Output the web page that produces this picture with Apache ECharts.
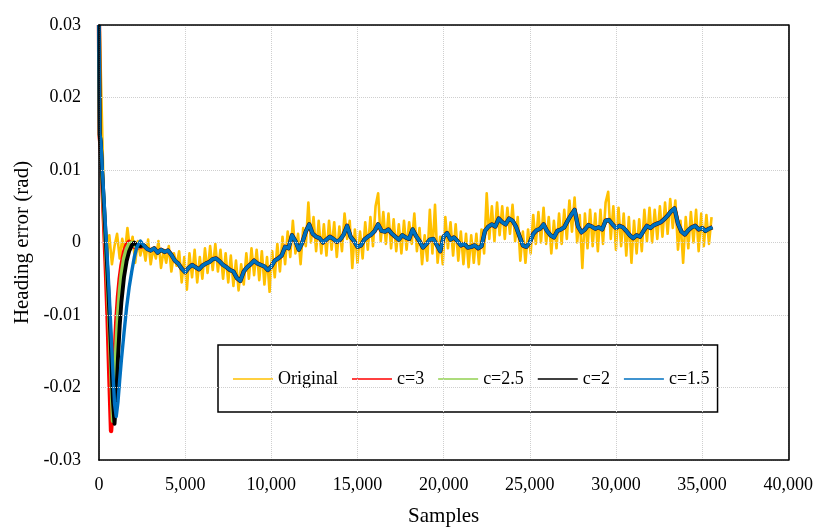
<!DOCTYPE html>
<html>
<head>
<meta charset="utf-8">
<script src="https://cdn.jsdelivr.net/npm/echarts@6/dist/echarts.min.js"></script>
<style>
html,body{margin:0;padding:0;background:#fff;}
#chart{width:816px;height:532px;}
</style>
</head>
<body>
<div id="chart"></div>
<script>
// ---------- DATA ----------
const seriesNames = ['Original', 'c=3', 'c=2.5', 'c=2', 'c=1.5'];
const xTicks = [0, 5000, 10000, 15000, 20000, 25000, 30000, 35000, 40000];
const yTicks = [-0.03, -0.02, -0.01, 0, 0.01, 0.02, 0.03];

// transient part (samples 0..2400) of the filtered signals
const transientSamples = [0, 40, 100, 200, 300, 400, 500, 600, 700, 800, 900, 1000, 1100, 1200, 1300, 1450, 1600, 1750, 1900, 2050, 2200, 2400];
const c3Transient  = [0.0300, 0.0146, 0.0131, 0.0076, 0.0022, -0.0038, -0.0105, -0.0185, -0.0260, -0.0225, -0.0160, -0.0110, -0.0075, -0.0050, -0.0032, -0.0013, -0.0003, 0.0001, -0.0003, -0.0006, -0.0007, -0.0006];
const c25Transient = [0.0300, 0.0148, 0.0136, 0.0084, 0.0038, -0.0008, -0.0058, -0.0112, -0.0175, -0.0246, -0.0205, -0.0145, -0.0100, -0.0068, -0.0045, -0.0022, -0.0009, -0.0002, 0.0000, -0.0004, -0.0006, -0.0005];
const c2Transient  = [0.0300, 0.0149, 0.0139, 0.0090, 0.0047, 0.0002, -0.0045, -0.0095, -0.0150, -0.0215, -0.0250, -0.0215, -0.0160, -0.0115, -0.0082, -0.0048, -0.0026, -0.0012, -0.0004, 0.0000, -0.0004, -0.0005];
const c15Transient = [0.0300, 0.0150, 0.0143, 0.0097, 0.0055, 0.0012, -0.0030, -0.0075, -0.0125, -0.0175, -0.0222, -0.0240, -0.0220, -0.0190, -0.0162, -0.0125, -0.0090, -0.0062, -0.0040, -0.0020, -0.0006, 0.0002];

// steady part (samples 2600..35600, every 200) – the filtered curves coincide here
const steadyStart = 2600, steadyStep = 200;
const steadyValues = [
-0.0004,-0.0009,-0.0011,-0.0008,-0.0014,-0.0010,-0.0013,-0.0011,-0.0017,-0.0025,
-0.0029,-0.0036,-0.0041,-0.0035,-0.0031,-0.0034,-0.0037,-0.0032,-0.0029,-0.0027,
-0.0023,-0.0022,-0.0026,-0.0031,-0.0034,-0.0038,-0.0040,-0.0049,-0.0053,-0.0040,
-0.0034,-0.0030,-0.0025,-0.0029,-0.0031,-0.0033,-0.0038,-0.0033,-0.0025,-0.0022,
-0.0018,-0.0006,-0.0008,0.0010,0.0002,-0.0010,0.0000,0.0015,0.0025,0.0012,
0.0008,0.0006,0.0000,0.0004,0.0008,0.0005,0.0001,0.0004,0.0011,0.0023,
0.0008,0.0002,-0.0006,-0.0004,0.0004,0.0008,0.0011,0.0016,0.0025,0.0016,
0.0015,0.0018,0.0012,0.0008,0.0004,0.0010,0.0007,0.0005,0.0018,0.0009,
0.0002,-0.0007,-0.0002,0.0004,0.0005,-0.0003,-0.0012,0.0008,0.0013,0.0004,
0.0007,0.0002,-0.0004,-0.0002,-0.0007,-0.0006,-0.0004,-0.0008,-0.0005,0.0016,
0.0022,0.0025,0.0022,0.0033,0.0028,0.0025,0.0033,0.0030,0.0022,0.0009,
-0.0004,-0.0006,0.0000,0.0012,0.0017,0.0019,0.0025,0.0016,0.0010,0.0007,
0.0016,0.0018,0.0021,0.0030,0.0038,0.0045,0.0022,0.0014,0.0018,0.0024,
0.0022,0.0019,0.0021,0.0018,0.0030,0.0031,0.0025,0.0020,0.0023,0.0021,
0.0016,0.0010,0.0006,0.0010,0.0008,0.0016,0.0023,0.0020,0.0024,0.0026,
0.0028,0.0032,0.0037,0.0043,0.0047,0.0026,0.0015,0.0011,0.0017,0.0021,
0.0023,0.0018,0.0020,0.0016,0.0019,0.0021
];

// original (unfiltered) signal
const originalHeadSamples = [0, 50, 120, 180, 250];
const originalHeadValues = [0.0300, 0.0290, 0.0220, 0.0160, 0.0090];
const originalStart = 300, originalStep = 150;
const originalValues = [
0.0020,-0.0020,0.0010,-0.0030,-0.0005,0.0012,-0.0022,0.0005,-0.0015,0.0020,-0.0010,0.0008,-0.0028,0.0002,-0.0018,
-0.0002,-0.0025,0.0004,-0.0030,-0.0008,-0.0022,0.0002,-0.0035,-0.0010,-0.0028,-0.0005,-0.0040,-0.0015,-0.0032,
-0.0012,-0.0055,-0.0020,-0.0065,-0.0015,-0.0048,-0.0010,-0.0055,-0.0020,-0.0050,-0.0008,-0.0042,-0.0005,-0.0038,-0.0002,-0.0040,-0.0010,-0.0050,-0.0015,-0.0055,-0.0018,-0.0060,-0.0025,-0.0066,-0.0030,-0.0058,-0.0015,-0.0050,-0.0008,-0.0045,-0.0010,-0.0052,-0.0012,-0.0058,-0.0020,-0.0068,-0.0012,
-0.0048,-0.0002,-0.0040,0.0008,-0.0030,0.0015,-0.0020,0.0030,-0.0015,0.0012,-0.0030,0.0020,-0.0005,
0.0055,0.0000,0.0035,-0.0012,0.0030,-0.0015,0.0025,-0.0018,0.0030,-0.0010,
0.0028,-0.0020,0.0022,-0.0012,0.0040,0.0005,0.0030,-0.0035,0.0018,-0.0028,
0.0015,-0.0022,0.0028,-0.0010,0.0035,-0.0005,0.0050,0.0068,0.0002,0.0042,
-0.0002,0.0040,-0.0008,0.0032,-0.0012,0.0025,-0.0015,0.0030,-0.0010,0.0028,
-0.0002,0.0040,-0.0012,0.0020,-0.0030,0.0010,-0.0025,0.0045,-0.0015,0.0052,
-0.0028,0.0008,-0.0030,0.0035,-0.0008,0.0028,-0.0018,0.0025,-0.0025,0.0015,
-0.0030,0.0012,-0.0034,0.0010,-0.0028,0.0012,-0.0030,0.0018,-0.0015,
0.0068,0.0005,0.0050,0.0002,0.0055,0.0010,0.0050,0.0005,0.0048,0.0012,
0.0052,0.0002,0.0035,-0.0025,0.0015,-0.0028,0.0018,-0.0015,0.0038,-0.0002,
0.0042,0.0000,0.0048,-0.0002,0.0035,-0.0015,0.0030,-0.0008,0.0040,-0.0002,
0.0045,0.0005,0.0058,0.0015,0.0062,0.0000,0.0038,-0.0035,0.0040,-0.0008,
0.0045,-0.0005,0.0040,-0.0012,0.0045,-0.0002,0.0055,0.0070,0.0005,0.0050,
-0.0010,0.0048,-0.0005,0.0040,-0.0018,0.0035,-0.0028,0.0030,-0.0015,0.0032,
-0.0012,0.0045,0.0002,0.0048,0.0000,0.0045,0.0005,0.0050,0.0008,0.0055,
0.0012,0.0060,0.0020,0.0058,-0.0010,0.0030,-0.0028,0.0035,-0.0008,0.0042,
0.0000,0.0045,-0.0012,0.0040,-0.0005,0.0038,-0.0002,0.0035
];

// ---------- BUILD ----------
function filtered(transient) {
  const pts = transientSamples.map((s, i) => [s, transient[i]]);
  steadyValues.forEach((v, i) => pts.push([steadyStart + i * steadyStep, v]));
  return pts;
}
function original() {
  const pts = originalHeadSamples.map((s, i) => [s, originalHeadValues[i]]);
  originalValues.forEach((v, i) => pts.push([originalStart + i * originalStep, v]));
  return pts;
}

const FONT = '"Liberation Serif", "Times New Roman", serif';
const colors = ['#FFC000', '#FF0000', '#92D050', '#000000', '#0070C0'];
const widths = [2.6, 4.4, 4.1, 3.9, 3.4];
const datas = [original(), filtered(c3Transient), filtered(c25Transient), filtered(c2Transient), filtered(c15Transient)];

const xMin = xTicks[0], xMax = xTicks[xTicks.length - 1], xInt = xTicks[1] - xTicks[0];
const yMin = yTicks[0], yMax = yTicks[yTicks.length - 1];
const frameLine = {show: true, onZero: false, lineStyle: {color: '#000', width: 1.6}};
const gridLine = {show: true, lineStyle: {color: '#cfcfcf', type: 'dotted', width: 1}};

const chart = echarts.init(document.getElementById('chart'), null, {renderer: 'canvas'});
chart.setOption({
  animation: false,
  backgroundColor: '#fff',
  grid: {left: 99, right: 21, top: 25, bottom: 63, show: false},
  legend: {
    data: seriesNames,
    left: 218, top: 345,
    orient: 'horizontal',
    icon: 'rect',
    itemWidth: 40, itemHeight: 1.6, itemGap: 14,
    padding: [25, 8, 24, 15],
    borderColor: '#000', borderWidth: 1.5,
    backgroundColor: '#fff',
    selectedMode: false,
    textStyle: {fontFamily: FONT, fontSize: 18, color: '#000'}
  },
  xAxis: [{
    type: 'value', min: xMin, max: xMax, interval: xInt, position: 'bottom',
    name: 'Samples', nameLocation: 'middle', nameGap: 46,
    nameTextStyle: {fontFamily: FONT, fontSize: 21, color: '#000'},
    axisLine: frameLine,
    axisTick: {show: false},
    axisLabel: {fontFamily: FONT, fontSize: 18, color: '#000', margin: 16,
      formatter: v => Math.round(v).toLocaleString('en-US')},
    splitLine: gridLine,
    z: 10
  }, {
    type: 'value', min: xMin, max: xMax, interval: xInt, position: 'top',
    axisLine: frameLine, axisTick: {show: false}, axisLabel: {show: false}, splitLine: {show: false}, z: 10
  }],
  yAxis: [{
    type: 'value', min: yMin, max: yMax, interval: 0.01, position: 'left',
    name: 'Heading error (rad)', nameLocation: 'middle', nameGap: 66,
    nameTextStyle: {fontFamily: FONT, fontSize: 21, color: '#000'},
    axisLine: frameLine,
    axisTick: {show: false},
    axisLabel: {fontFamily: FONT, fontSize: 18, color: '#000', margin: 18,
      formatter: v => { const r = Math.round(v * 100) / 100; return r === 0 ? '0' : r.toFixed(2); }},
    splitLine: gridLine,
    z: 10
  }, {
    type: 'value', min: yMin, max: yMax, interval: 0.01, position: 'right',
    axisLine: frameLine, axisTick: {show: false}, axisLabel: {show: false}, splitLine: {show: false}, z: 10
  }],
  series: seriesNames.map((name, i) => ({
    name: name, type: 'line', data: datas[i],
    xAxisIndex: 0, yAxisIndex: 0,
    symbol: 'none', showSymbol: false, silent: true,
    color: colors[i],
    itemStyle: {color: colors[i]},
    lineStyle: {color: colors[i], width: widths[i], join: 'round'},
    emphasis: {disabled: true},
    z: 2 + i
  }))
});
</script>
</body>
</html>
